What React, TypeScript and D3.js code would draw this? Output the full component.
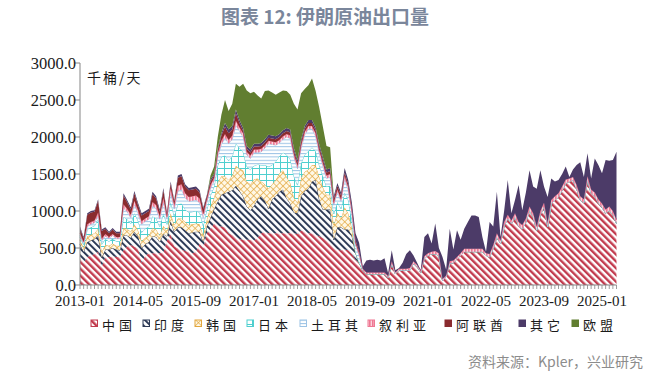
import React from "react";
import * as d3 from "d3";

// ---------- data (千桶/天), monthly 2013-01 .. 2025-05 ----------
const seriesNames = ["中国", "印度", "韩国", "日本", "土耳其", "叙利亚", "阿联酋", "其它", "欧盟"];
const startMonth = "2013-01";
const tickLabels = ["2013-01", "2014-05", "2015-09", "2017-01", "2018-05", "2019-09", "2021-01", "2022-05", "2023-09", "2025-01"];
const yTicks = [0, 500, 1000, 1500, 2000, 2500, 3000];

const china = [
  380, 300, 380, 400, 420, 450, 250, 380, 380, 390, 380, 380,
  470, 520, 540, 520, 500, 300, 400, 430, 430, 430, 430, 440,
  600, 690, 520, 500, 480, 460, 450, 430, 450, 560, 500, 700,
  760, 830, 800, 790, 780, 700, 680, 650, 620, 610, 610, 610,
  600, 640, 700, 720, 700, 700, 700, 700, 700, 700, 700, 700,
  690, 740, 720, 700, 700, 680, 660, 640, 600, 560,
  500, 480, 470, 480, 470, 420, 340, 300, 200,
  150, 150, 150, 150, 150, 150, 100, 290, 150, 200, 200, 200, 200, 290, 250, 170,
  360, 400, 420, 420, 400, 60, 110, 290, 300, 350, 400, 450, 450, 450, 450, 450,
  450, 400, 380, 500, 650, 560, 800, 900, 830, 920, 800, 760, 850, 1010, 920, 740,
  950, 1060, 790, 1100, 1150, 1190, 1280, 1375, 1400, 1420, 1300, 1150, 1110, 1420, 1240, 1200, 1110, 1050, 970, 1010, 950, 830,
];
const india = [
  170, 150, 200, 200, 200, 220, 120, 100, 100, 110, 100, 90,
  200, 150, 100, 200, 160, 200, 150, 150, 230, 220, 150, 250,
  60, 170, 200, 280, 300, 280, 250, 280, 270, 160, 80, 90,
  150, 200, 330, 430, 460, 560, 600, 690, 650, 590, 450, 400,
  470, 520, 500, 420, 330, 460, 500, 560, 590, 470, 400, 280,
  280, 460, 550, 600, 700, 740, 500, 380, 420, 460,
  110, 300, 310, 270, 280, 250, 100, 0, 0,
  0, 0, 0, 0, 0, 0, 0, 0, 0, 0, 0, 0, 0, 0, 0, 0,
  0, 0, 0, 0, 0, 0, 0, 0, 0, 0, 0, 0, 0, 0, 0, 0,
  0, 0, 0, 0, 0, 0, 0, 0, 0, 0, 0, 0, 0, 0, 0, 0,
  0, 0, 0, 0, 0, 0, 0, 0, 0, 0, 0, 0, 0, 0, 0, 0, 0, 0, 0, 0, 0, 0,
];
const korea = [
  60, 50, 80, 80, 80, 90, 80, 60, 50, 60, 50, 60,
  100, 90, 80, 100, 80, 90, 90, 90, 110, 100, 90, 110,
  70, 110, 90, 120, 120, 110, 110, 110, 110, 100, 90, 100,
  150, 150, 260, 250, 230, 160, 200, 270, 300, 350, 340, 350,
  360, 280, 200, 220, 270, 200, 220, 250, 260, 290, 280, 200,
  140, 250, 260, 260, 220, 200, 300, 300, 200, 200,
  200, 200, 120, 300, 220, 100, 0, 0, 0,
  0, 0, 0, 0, 0, 0, 0, 0, 0, 0, 0, 0, 0, 0, 0, 0,
  0, 0, 0, 0, 0, 0, 0, 0, 0, 0, 0, 0, 0, 0, 0, 0,
  0, 0, 0, 0, 0, 0, 0, 0, 0, 0, 0, 0, 0, 0, 0, 0,
  0, 0, 0, 0, 0, 0, 0, 0, 0, 0, 0, 0, 0, 0, 0, 0, 0, 0, 0, 0, 0, 0,
];
const japan = [
  40, 40, 90, 100, 100, 130, 100, 80, 60, 70, 60, 60,
  150, 130, 110, 150, 130, 120, 120, 120, 160, 150, 120, 170,
  90, 150, 120, 190, 200, 170, 170, 170, 170, 160, 130, 130,
  150, 150, 230, 260, 280, 260, 260, 300, 280, 250, 200, 200,
  180, 190, 220, 260, 300, 260, 250, 230, 240, 300, 320, 290,
  240, 200, 230, 250, 240, 190, 160, 150, 110, 120,
  150, 140, 130, 200, 180, 100, 0, 0, 0,
  0, 0, 0, 0, 0, 0, 0, 0, 0, 0, 0, 0, 0, 0, 0, 0,
  0, 0, 0, 0, 0, 0, 0, 0, 0, 0, 0, 0, 0, 0, 0, 0,
  0, 0, 0, 0, 0, 0, 0, 0, 0, 0, 0, 0, 0, 0, 0, 0,
  0, 0, 0, 0, 0, 0, 0, 0, 0, 0, 0, 0, 0, 0, 0, 0, 0, 0, 0, 0, 0, 0,
];
const turkey = [
  20, 20, 40, 40, 40, 50, 50, 40, 40, 40, 40, 40,
  120, 100, 80, 120, 100, 110, 100, 100, 140, 130, 100, 150,
  70, 130, 100, 180, 190, 160, 150, 150, 150, 130, 110, 100,
  100, 80, 120, 170, 240, 230, 230, 250, 230, 200, 160, 150,
  180, 160, 180, 230, 310, 280, 220, 180, 180, 240, 280, 260,
  220, 200, 270, 300, 250, 200, 160, 140, 110, 120,
  120, 140, 100, 190, 130, 100, 100, 100, 0,
  0, 0, 0, 0, 0, 0, 0, 0, 0, 0, 0, 0, 0, 0, 0, 0,
  0, 0, 0, 0, 0, 0, 0, 0, 0, 0, 0, 0, 0, 0, 0, 0,
  0, 0, 0, 0, 0, 0, 0, 0, 0, 0, 0, 0, 0, 0, 0, 0,
  0, 0, 0, 0, 0, 0, 0, 0, 0, 0, 0, 0, 0, 0, 0, 0, 0, 0, 0, 0, 0, 0,
];
const syria = [
  30, 20, 30, 30, 30, 40, 30, 30, 20, 20, 20, 20,
  50, 40, 40, 50, 40, 40, 40, 40, 50, 50, 40, 60,
  30, 60, 50, 70, 70, 60, 60, 60, 60, 60, 50, 40,
  40, 40, 40, 50, 50, 50, 50, 60, 50, 50, 40, 40,
  40, 40, 40, 40, 40, 40, 40, 40, 40, 40, 40, 40,
  40, 40, 40, 40, 40, 40, 40, 40, 40, 40,
  30, 30, 30, 40, 40, 30, 30, 30, 20,
  20, 20, 20, 20, 20, 20, 20, 30, 20, 20, 20, 20, 30, 30, 20, 20,
  30, 30, 30, 40, 30, 20, 20, 30, 30, 30, 30, 40, 40, 40, 40, 40,
  40, 30, 40, 40, 50, 40, 50, 50, 40, 50, 50, 50, 50, 50, 50, 50,
  50, 50, 50, 50, 50, 50, 50, 50, 40, 40, 50, 50, 50, 50, 50, 50, 50, 50, 50, 50, 50, 50,
];
const uae = [
  70, 50, 130, 130, 120, 160, 100, 70, 50, 60, 50, 50,
  120, 90, 70, 100, 70, 80, 70, 70, 110, 90, 60, 100,
  40, 60, 50, 110, 110, 90, 90, 90, 90, 80, 70, 40,
  50, 30, 40, 70, 100, 90, 80, 100, 60, 30, 40, 40,
  40, 40, 40, 40, 40, 40, 40, 40, 40, 40, 40, 40,
  40, 40, 40, 40, 40, 40, 40, 40, 40, 40,
  50, 50, 50, 40, 40, 30, 30, 20, 0,
  0, 0, 0, 0, 0, 0, 0, 0, 0, 0, 0, 0, 0, 0, 0, 0,
  0, 0, 0, 0, 0, 0, 0, 0, 0, 0, 0, 0, 0, 0, 0, 0,
  0, 0, 0, 0, 0, 0, 0, 0, 0, 0, 0, 0, 0, 0, 0, 0,
  0, 0, 0, 0, 0, 0, 0, 0, 0, 0, 0, 0, 0, 0, 0, 0, 0, 0, 0, 0, 0, 0,
];
const other = [
  20, 20, 20, 20, 20, 20, 20, 20, 20, 20, 20, 20,
  30, 30, 30, 30, 30, 30, 30, 30, 30, 30, 30, 30,
  20, 30, 20, 30, 30, 30, 30, 30, 30, 30, 20, 20,
  30, 20, 30, 30, 50, 50, 50, 50, 40, 40, 40, 40,
  40, 40, 40, 40, 40, 40, 40, 40, 40, 40, 40, 40,
  40, 40, 40, 40, 40, 40, 40, 40, 40, 40,
  40, 40, 40, 60, 60, 80, 100, 120, 30,
  160, 170, 160, 170, 160, 190, 40, 150, 30, 10, 80, 200, 240, 80, 30, 10,
  260, 270, 110, 370, 70, 300, 80, 440, 150, 360, 180, 270, 360, 450, 450, 430,
  160, 20, 430, 250, 560, 50, 150, 470, 100, 180, 500, 200, 350, 490, 360, 510,
  550, 220, 350, 290, 200, 180, 170, 175, 20, 100, 270, 460, 300, 310, 150, 460, 460, 410, 670, 620, 690, 920,
];
const eu = [
  0, 0, 0, 0, 0, 0, 0, 0, 0, 0, 0, 0,
  0, 0, 0, 0, 0, 0, 0, 0, 0, 0, 0, 0,
  0, 0, 0, 0, 0, 0, 0, 0, 0, 0, 0, 0,
  50, 100, 150, 250, 310, 250, 300, 350, 450, 600, 750, 760,
  700, 650, 600, 650, 600, 580, 560, 560, 540, 500, 470, 600,
  680, 620, 500, 470, 560, 490, 500, 410, 320, 280,
  0, 0, 0, 0, 0, 0, 0, 0, 0,
  0, 0, 0, 0, 0, 0, 0, 0, 0, 0, 0, 0, 0, 0, 0, 0,
  0, 0, 0, 0, 0, 0, 0, 0, 0, 0, 0, 0, 0, 0, 0, 0,
  0, 0, 0, 0, 0, 0, 0, 0, 0, 0, 0, 0, 0, 0, 0, 0,
  0, 0, 0, 0, 0, 0, 0, 0, 0, 0, 0, 0, 0, 0, 0, 0, 0, 0, 0, 0, 0, 0,
];
const seriesValues = [china, india, korea, japan, turkey, syria, uae, other, eu];

// ---------- layout / style ----------
const W = 672;
const H = 377;
const PLOT = { left: 80, right: 616.5, top: 63, bottom: 285 };
const SERIF = "'Liberation Serif', 'Times New Roman', serif";
const CJK = "'Noto Sans CJK SC', 'Noto Sans', sans-serif";
const styles = [
  { color: "#c23b4e", fill: "url(#pChina)", line: false },
  { color: "#2d3a56", fill: "url(#pIndia)", line: true },
  { color: "#e2a63c", fill: "url(#pKorea)", line: true },
  { color: "#4fcfcf", fill: "url(#pJapan)", line: true },
  { color: "#9cc3e5", fill: "url(#pTurkey)", line: true },
  { color: "#ef7893", fill: "url(#pSyria)", line: true },
  { color: "#8a2b2e", fill: "#8a2b2e", line: false },
  { color: "#4c3b68", fill: "#4c3b68", line: false },
  { color: "#617e30", fill: "#617e30", line: false },
];
const legendX = [91, 143, 195, 247, 300, 368, 445, 519, 572];

export default function App() {
  const n = china.length;
  const start = d3.timeParse("%Y-%m")(startMonth) as Date;
  const fmt = d3.timeFormat("%Y-%m");
  const months = d3.range(n).map((i) => fmt(d3.timeMonth.offset(start, i)));

  const rows = months.map((m, i) => {
    const r: any = { month: m };
    seriesNames.forEach((s, k) => (r[s] = seriesValues[k][i]));
    return r;
  });

  const x = d3.scalePoint<string>().domain(months).range([PLOT.left, PLOT.right]);
  const y = d3.scaleLinear().domain([0, 3000]).range([PLOT.bottom, PLOT.top]);
  const stacked = d3.stack<any>().keys(seriesNames)(rows);

  const area = d3
    .area<any>()
    .x((d) => x(d.data.month) as number)
    .y0((d) => y(d[0]))
    .y1((d) => y(d[1]));
  const topLine = d3
    .line<any>()
    .x((d) => x(d.data.month) as number)
    .y((d) => y(d[1]));

  return (
    <svg width={W} height={H} style={{ display: "block", position: "absolute", left: 0, top: 0, background: "#fff" }}>
      <defs>
        <pattern id="pChina" width="4.8" height="4.8" patternUnits="userSpaceOnUse" patternTransform="rotate(-45)">
          <rect width="4.8" height="4.8" fill="#fff" />
          <rect width="2.4" height="4.8" fill="#c23b4e" />
        </pattern>
        <pattern id="pIndia" width="4.8" height="4.8" patternUnits="userSpaceOnUse" patternTransform="rotate(-45)">
          <rect width="4.8" height="4.8" fill="#fff" />
          <rect width="2.0" height="4.8" fill="#2d3a56" />
        </pattern>
        <pattern id="pKorea" width="4.6" height="4.6" patternUnits="userSpaceOnUse" patternTransform="rotate(45)">
          <rect width="4.6" height="4.6" fill="#fff8e6" />
          <line x1="0" y1="0" x2="4.6" y2="0" stroke="#e2a63c" strokeWidth="1.3" />
          <line x1="0" y1="0" x2="0" y2="4.6" stroke="#e2a63c" strokeWidth="1.3" />
        </pattern>
        <pattern id="pJapan" width="7" height="6" patternUnits="userSpaceOnUse">
          <rect width="7" height="6" fill="#fff" />
          <line x1="0" y1="0.5" x2="7" y2="0.5" stroke="#4fcfcf" strokeWidth="1" />
          <line x1="0.5" y1="0" x2="0.5" y2="6" stroke="#4fcfcf" strokeWidth="1" />
        </pattern>
        <pattern id="pTurkey" width="4" height="3.4" patternUnits="userSpaceOnUse">
          <rect width="4" height="3.4" fill="#fff" />
          <line x1="0" y1="0.5" x2="4" y2="0.5" stroke="#9cc3e5" strokeWidth="1" />
        </pattern>
        <pattern id="pSyria" width="3" height="3" patternUnits="userSpaceOnUse">
          <rect width="3" height="3" fill="#fbd3dc" />
          <rect width="1.6" height="3" fill="#ef7893" />
        </pattern>
      </defs>

      {/* title */}
      <text x={325} y={24} textAnchor="middle" fontFamily={CJK} fontWeight={700} fontSize={19} fill="#7a869b">
        图表 12: 伊朗原油出口量
      </text>

      {/* areas */}
      {stacked.map((s, k) => (
        <g key={seriesNames[k]}>
          <path d={area(s) as string} fill={styles[k].fill} />
          {styles[k].line && (
            <path d={topLine(s) as string} fill="none" stroke={styles[k].color} strokeWidth={0.9} />
          )}
        </g>
      ))}

      {/* y axis */}
      <line x1={PLOT.left} x2={PLOT.left} y1={PLOT.top} y2={PLOT.bottom} stroke="#858585" strokeWidth={1} />
      {yTicks.map((t) => (
        <g key={t}>
          <line x1={PLOT.left - 5} x2={PLOT.left} y1={y(t)} y2={y(t)} stroke="#858585" strokeWidth={1} />
          <text x={PLOT.left - 4} y={y(t) + 5.5} textAnchor="end" fontFamily={SERIF} fontSize={16.5} fill="#1a1a1a">
            {d3.format(".1f")(t)}
          </text>
        </g>
      ))}

      {/* x axis */}
      <line x1={PLOT.left} x2={PLOT.right} y1={PLOT.bottom} y2={PLOT.bottom} stroke="#858585" strokeWidth={1} />
      {months.map((m) => (
        <line key={m} x1={x(m)} x2={x(m)} y1={PLOT.bottom} y2={PLOT.bottom + 4} stroke="#858585" strokeWidth={0.8} />
      ))}
      {tickLabels.map((t) => (
        <text key={t} x={x(t)} y={306} textAnchor="middle" fontFamily={SERIF} fontSize={15} fill="#1a1a1a">
          {t}
        </text>
      ))}

      {/* unit */}
      <text x={87} y={83} fontFamily={CJK} fontSize={14} letterSpacing={2} fill="#1a1a1a">
        千桶/天
      </text>

      {/* legend */}
      {seriesNames.map((s, k) => (
        <g key={s}>
          <rect
            x={legendX[k]}
            y={320}
            width={6.5}
            height={6.5}
            fill={styles[k].fill}
            stroke={styles[k].color}
            strokeWidth={1}
          />
          <text x={legendX[k] + 11} y={329.5} fontFamily={CJK} fontSize={13} letterSpacing={4} fill="#1a1a1a">
            {s}
          </text>
        </g>
      ))}

      {/* source */}
      <text x={468} y={367} fontFamily={CJK} fontSize={14} fill="#8c8c8c">
        资料来源：Kpler，兴业研究
      </text>
    </svg>
  );
}
